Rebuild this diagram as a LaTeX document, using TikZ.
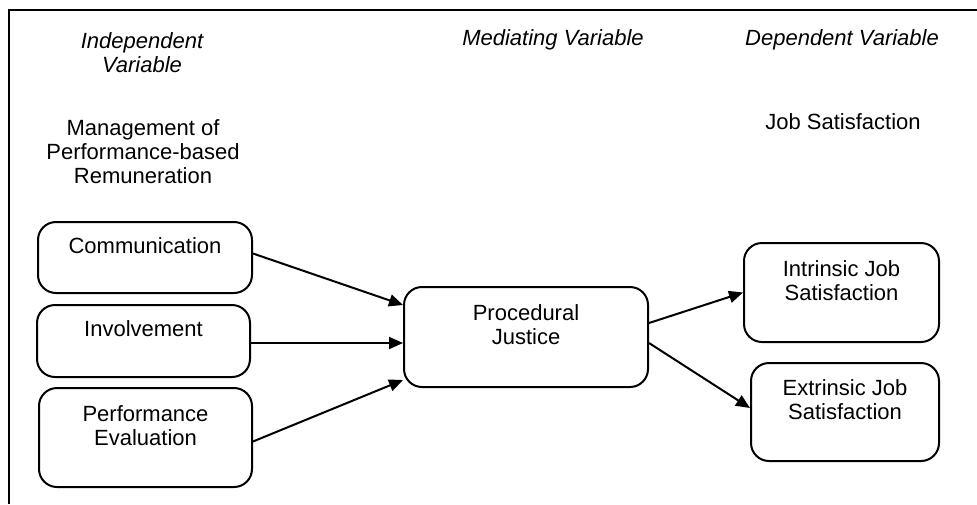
\documentclass[tikz,border=0pt]{standalone}
\usepackage{fontspec}
\setmainfont{Liberation Sans}
\usetikzlibrary{arrows.meta}
\begin{document}
\begin{tikzpicture}[x=0.5pt,y=-0.5pt,
    every node/.style={font=\fontsize{11}{12}\selectfont,align=center,inner sep=0pt},
    heading/.style={font=\fontsize{11}{12}\selectfont\itshape},
    varbox/.style={draw,line width=1pt,rounded corners=9pt},
    link/.style={line width=1pt,-{Triangle[length=7pt,width=6pt]}}]
    \useasboundingbox (0,0) rectangle (977,504);
    \draw [line width=1pt] (977,10) -- (9,10) -- (9,504);

    \node [heading] (indep) at (142,52.5) {Independent\\Variable};
    \node [heading] (medi) at (553,40) {Mediating Variable};
    \node [heading] (dep) at (842,40) {Dependent Variable};
    \node (mgmt) at (143,151.5) {Management of\\Performance-based\\Remuneration};
    \node (jobsat) at (843,122) {Job Satisfaction};

    \node [varbox,minimum width=107pt,minimum height=35.5pt] (comm) at (145,257.5) {Communication\\\mbox{}};
    \node [varbox,minimum width=106.5pt,minimum height=36pt] (invol) at (143.5,341) {Involvement\\\mbox{}};
    \node [varbox,minimum width=106.5pt,minimum height=49.5pt] (perf) at (145.5,437.5) {Performance\\Evaluation\\\mbox{}};
    \node [varbox,minimum width=122pt,minimum height=50pt] (proc) at (526,337) {Procedural\\Justice\\\mbox{}};
    \node [varbox,minimum width=97.5pt,minimum height=49.5pt] (intr) at (841.5,292.5) {Intrinsic Job\\Satisfaction\\\mbox{}};
    \node [varbox,minimum width=94pt,minimum height=49pt] (extr) at (845,412) {Extrinsic Job\\Satisfaction\\\mbox{}};

    \draw [link] ([yshift=2pt]comm.east) -- ([yshift=16pt]proc.west);
    \draw [link] ([yshift=-1pt]invol.east) -- ([yshift=-3pt]proc.west);
    \draw [link] ([yshift=-2pt]perf.east) -- ([yshift=-21.5pt]proc.west);
    \draw [link] ([yshift=7pt]proc.east) -- (intr.west);
    \draw [link] ([yshift=-3pt]proc.east) -- ([yshift=2pt]extr.west);
\end{tikzpicture}
\end{document}
